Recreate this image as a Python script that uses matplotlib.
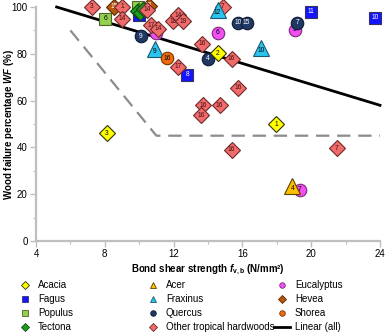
import matplotlib
matplotlib.use("Agg")
import matplotlib.pyplot as plt
from matplotlib.lines import Line2D

plt.rcParams['font.family'] = ['Liberation Sans', 'DejaVu Sans']
plt.rcParams['mathtext.fontset'] = 'custom'
plt.rcParams['mathtext.it'] = 'Liberation Sans:bold:italic'
plt.rcParams['mathtext.rm'] = 'Liberation Sans:bold'
plt.rcParams['mathtext.bf'] = 'Liberation Sans:bold'

# data: (bond shear strength, wood failure %, label)
acacia_x = [8.1, 14.56, 17.96]
acacia_y = [46, 80.3, 50]
acacia_lab = ['3', '2', '1']

acer_x = [18.9]
acer_y = [23.5]
acer_lab = ['4']

euca_x = [11.0, 14.56, 19.06, 19.35]
euca_y = [89, 88.9, 90.2, 21.8]
euca_lab = ['8', '6', '5', '7']

fagus_x = [10.0, 12.8, 20.0, 23.7]
fagus_y = [96.6, 71, 97.9, 95.3]
fagus_lab = ['5', '8', '11', '10']

frax_x = [10.9, 17.1, 14.56]
frax_y = [82, 82.5, 98.7]
frax_lab = ['9', '10', '12']

hevea_x = [8.56, 10.55]
hevea_y = [100, 100.5]
hevea_lab = ['15', '15']

populus_x = [8.04, 9.94]
populus_y = [95, 100]
populus_lab = ['6', '6']

quercus_x = [10.1, 13.98, 15.77, 16.24, 19.2]
quercus_y = [87.6, 77.8, 93.2, 93.2, 93.2]
quercus_lab = ['9', '4', '10', '15', '7']

shorea_x = [11.6]
shorea_y = [78.2]
shorea_lab = ['16']

tectona_x = [9.9, 10.05, 10.2]
tectona_y = [98.5, 97.5, 99.2]
tectona_lab = ['', '', '']

other_x = [7.23, 9.0, 9.0, 10.45, 10.7, 11.1, 12.25, 11.96, 12.25, 12.54, 14.85,
           13.64, 15.37, 15.77, 13.7, 14.67, 13.6, 15.37, 21.5]
other_y = [100, 100, 94.9, 98.8, 92.3, 90.6, 74.4, 94.0, 96.4, 94.0, 100,
           84.2, 77.8, 65.4, 58.1, 58.1, 53.8, 38.9, 39.7]
other_lab = ['3', '1', '14', '14', '17', '14', '17', '18', '14', '19', '7',
             '16', '16', '16', '16', '16', '16', '16', '7']

trend_x = [5.2, 24]
trend_y = [100, 58]
limit_x = [6, 11, 24]
limit_y = [90, 45, 45]

W, H = 387, 333
fig = plt.figure(figsize=(W / 100, H / 100), dpi=100)
ax = fig.add_axes([36 / W, 1 - 241 / H, (380 - 36) / W, 234 / H])

ax.plot(limit_x, limit_y, color='#8c8c8c', lw=1.6, dashes=(6, 3.5), zorder=1)
ax.plot(trend_x, trend_y, color='black', lw=2, zorder=2, clip_on=False)

# name, x, y, labels, marker, size, face, edge, text colour
groups = [
    ('Hevea', hevea_x, hevea_y, hevea_lab, 'D', 8.3, '#b8560c', '#5a2a00', 'white'),
    ('Populus', populus_x, populus_y, populus_lab, 's', 9, '#92d050', '#4f6228', 'black'),
    ('Fagus', fagus_x, fagus_y, fagus_lab, 's', 9, '#1414ff', '#333366', 'white'),
    ('Tectona', tectona_x, tectona_y, tectona_lab, 'D', 7, '#1e9e1e', '#0b4d0b', 'white'),
    ('Eucalyptus', euca_x, euca_y, euca_lab, 'o', 9, '#f24ff2', '#7a2a7a', 'black'),
    ('Other tropical hardwoods', other_x, other_y, other_lab, 'D', 8.3, '#f26b6b', '#6e2b2b', '#3a1010'),
    ('Quercus', quercus_x, quercus_y, quercus_lab, 'o', 9, '#1f3864', '#0d1a33', 'white'),
    ('Fraxinus', frax_x, frax_y, frax_lab, '^', 11, '#29c4ef', '#1a5a70', 'black'),
    ('Shorea', shorea_x, shorea_y, shorea_lab, 'o', 9, '#f06a10', '#7a3300', 'black'),
    ('Acacia', acacia_x, acacia_y, acacia_lab, 'D', 8.3, '#ffff00', '#333300', 'black'),
    ('Acer', acer_x, acer_y, acer_lab, '^', 11, '#ffc000', '#5a4400', 'black'),
]

z = 3
for name, xs, ys, labs, mk, ms, fc, ec, tc in groups:
    for x, y, lab in zip(xs, ys, labs):
        ax.plot(x, y, marker=mk, ms=ms, mfc=fc, mec=ec, mew=0.8, ls='none',
                zorder=z, clip_on=False)
        dy = -1.2 if mk == '^' else 0
        ax.text(x, y + dy, lab, fontsize=4.8, color=tc, ha='center', va='center',
                zorder=z + 0.5, clip_on=False)
        z += 1

ax.set_xlim(4, 24)
ax.set_ylim(0, 100)
ax.set_xticks([4, 8, 12, 16, 20, 24])
ax.set_xticks([6, 10, 14, 18, 22], minor=True)
ax.set_yticks([0, 20, 40, 60, 80, 100])
ax.set_yticks([10, 30, 50, 70, 90], minor=True)
for s in ['top', 'right']:
    ax.spines[s].set_visible(False)
for s in ['left', 'bottom']:
    ax.spines[s].set_color('#bfbfbf')
    ax.spines[s].set_linewidth(1.6)
ax.tick_params(which='major', direction='out', length=4, width=1, color='#bfbfbf',
               labelsize=7, pad=2)
ax.tick_params(which='minor', direction='out', length=2.5, width=0.8, color='#bfbfbf')

ax.set_xlabel(r'Bond shear strength $\mathit{f}_{\mathrm{v,b}}$ (N/mm²)',
              fontsize=7, fontweight='bold', labelpad=2)
ax.set_ylabel(r'Wood failure percentage $\mathit{WF}$ (%)',
              fontsize=7, fontweight='bold')
ax.yaxis.set_label_coords(-0.058, 0.5)

# legend, three columns placed separately
def mkh(mk, fc, ec):
    return Line2D([], [], marker=mk, ms=4, mfc=fc, mec=ec, mew=0.6, ls='none')

columns = [
    (17, [mkh('D', '#ffff00', '#333300'), mkh('s', '#1414ff', '#333366'),
          mkh('s', '#92d050', '#4f6228'), mkh('D', '#1e9e1e', '#0b4d0b')],
     ['Acacia', 'Fagus', 'Populus', 'Tectona']),
    (145, [mkh('^', '#ffc000', '#5a4400'), mkh('^', '#29c4ef', '#1a5a70'),
           mkh('o', '#1f3864', '#0d1a33'), mkh('D', '#f26b6b', '#6e2b2b')],
     ['Acer', 'Fraxinus', 'Quercus', 'Other tropical hardwoods']),
    (274, [mkh('o', '#f24ff2', '#7a2a7a'), mkh('D', '#b8560c', '#5a2a00'),
           mkh('o', '#f06a10', '#7a3300'), Line2D([], [], color='black', lw=2)],
     ['Eucalyptus', 'Hevea', 'Shorea', 'Linear (all)']),
]
for x0, hs, ls in columns:
    leg = fig.legend(hs, ls, loc='upper left', bbox_to_anchor=(x0 / W, 1 - 280 / H),
                     frameon=False, fontsize=7, handlelength=1.6, handletextpad=0.55,
                     borderpad=0, borderaxespad=0, labelspacing=0.42)

fig.savefig('out.png', dpi=100)
